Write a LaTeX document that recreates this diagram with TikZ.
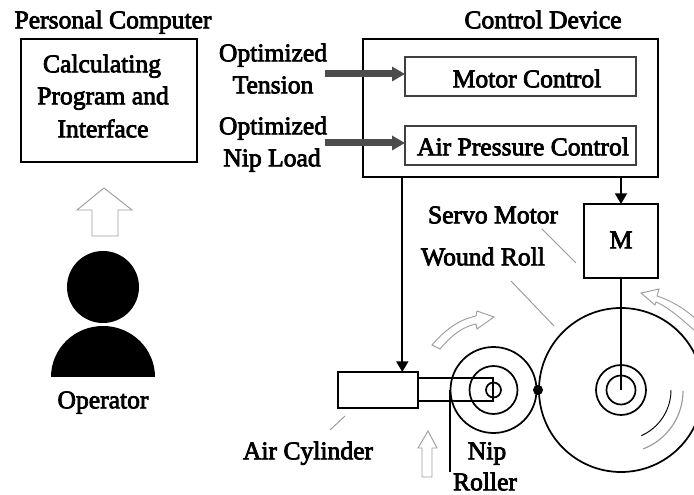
\documentclass[tikz,border=0pt]{standalone}
\usepackage{fontspec}
\setmainfont{Liberation Serif}[RawFeature={embolden=3}]
\usetikzlibrary{arrows.meta}
\definecolor{thickg}{gray}{0.3}
\definecolor{leader}{gray}{0.6}
\definecolor{hollow}{gray}{0.62}
\tikzset{
  lab/.style={inner sep=0pt,anchor=base,yshift=-1pt,font=\fontsize{19.2}{22}\selectfont,text=black},
  box/.style={draw=black,line width=1.3pt,inner sep=0pt,outer sep=0pt,anchor=north west},
  subbox/.style={draw=black!75,line width=0.8pt,inner sep=0pt,outer sep=0pt,anchor=north west},
  conn/.style={draw=black,line width=1.5pt,-{Triangle[length=8pt,width=9pt]}},
  fatarrow/.style={draw=thickg,line width=5.25pt,-{Triangle[length=9.75pt,width=10.5pt]}},
  leaderline/.style={draw=leader,line width=0.7pt},
  hollowarrow/.style={draw=hollow,line width=0.7pt,fill=white,line join=miter},
  roll/.style={draw=black,line width=1.3pt,circle,inner sep=0pt,outer sep=0pt},
  solidshape/.style={fill=black,draw=none}
}
\begin{document}
\begin{tikzpicture}[x=0.75pt,y=-0.75pt]
\useasboundingbox (0,0) rectangle (694,495);
\begin{scope}
\clip (0,0) rectangle (694,495);

% boxes
\node[box,minimum width=132pt,minimum height=92.25pt] (pc) at (21,39) {};
\node[box,minimum width=221.25pt,minimum height=103.5pt] (ctrl) at (363,39) {};
\node[subbox,minimum width=173.25pt,minimum height=29.25pt] (motor) at (405,57) {};
\node[subbox,minimum width=173.25pt,minimum height=29.25pt] (air) at (405,126) {};
\node[box,minimum width=55.5pt,minimum height=55.5pt] (mbox) at (584,204) {};
\node[box,minimum width=60pt,minimum height=27pt] (cyl) at (338,372) {};

% rolls
\node[roll,minimum size=123pt] (wound) at (621,390) {};
\node[roll,minimum size=37.5pt] (woundm) at (621,390) {};
\node[roll,minimum size=21.75pt] (woundi) at (621,390) {};
\node[roll,minimum size=64.5pt] (nip) at (493.5,390) {};
\node[roll,minimum size=36pt] (nipm) at (493.5,390) {};
\node[roll,minimum size=11.25pt] (nipi) at (493.5,390) {};
\node[circle,fill=black,inner sep=0pt,minimum size=7.5pt] (contact) at (538,390) {};

% rod
\coordinate (rodtr) at (493,378);
\coordinate (rodbr) at (493,401);
\coordinate (rodtl) at (418,378);
\coordinate (rodbl) at (418,401);
\draw[draw=black,line width=1.3pt] (rodtl) -- (rodtr) -- (rodbr) -- (rodbl);

% connectors
\coordinate (ctrlL) at (402.3,177);
\coordinate (cylT) at (402.3,372);
\draw[conn] (ctrlL) -- (cylT);
\draw[conn] (mbox.north |- ctrl.south) -- (mbox.north);
\draw[draw=black,line width=1.3pt] (mbox.south) -- (woundi.center);

% fat arrows
\coordinate (f1) at (325,74);
\coordinate (f2) at (325,143);
\draw[fatarrow] (f1) -- (motor.west |- f1);
\draw[fatarrow] (f2) -- (air.west |- f2);

% leaders
\coordinate (la) at (511,281); \coordinate (lb) at (554,326);
\draw[leaderline] (la) -- (lb);
\coordinate (lc) at (542,229); \coordinate (ld) at (576,263);
\draw[leaderline] (lc) -- (ld);
\coordinate (le) at (345,416); \coordinate (lf) at (330,430);
\draw[leaderline] (le) -- (lf);
\coordinate (lg) at (450,390); \coordinate (lh) at (450,472);
\draw[draw=black,line width=1.3pt] (lg) -- (lh);

% hollow straight arrows
\draw[hollowarrow] (92,236) -- (92,210) -- (77,210) -- (104,188) -- (132,210) -- (118,210) -- (118,236) -- cycle;
\draw[hollowarrow] (422,477) -- (422,448) -- (418,448) -- (428,431) -- (437,448) -- (432,448) -- (432,477) -- cycle;

% hollow curved arrows
\draw[hollowarrow] (432,345) .. controls (445,330) and (458,320) .. (476,316) -- (477,311) -- (494,317) -- (477,329) -- (476,324) .. controls (462,327) and (452,335) .. (440,349) -- cycle;
\draw[hollowarrow] (705,328) .. controls (690,312) and (675,302) .. (657,296) -- (659,289) -- (641,293) -- (655,305) -- (656,302) .. controls (670,308) and (685,322) .. (705,340);

% inner arcs
\draw[draw=black,line width=0.7pt] (671,390) arc[start angle=0,end angle=66,radius=50];
\draw[draw=hollow,line width=0.9pt] (683,391) arc[start angle=0,end angle=69,radius=62];

% operator
\node[circle,solidshape,inner sep=0pt,minimum size=54pt] (ophead) at (103,287) {};
\coordinate (bodyr) at (155,377);
\coordinate (bodyl) at (51,377);
\fill[solidshape] (bodyl) arc[start angle=180,end angle=0,x radius=52,y radius=-51] -- cycle;

% labels
\node[lab] (tpc) at (113,27) {Personal Computer};
\node[lab] (tcd) at (543,27) {Control Device};
\node[lab] (t1) at (102,71) {Calculating};
\node[lab] (t2) at (103,103) {Program and};
\node[lab] (t3) at (103,136) {Interface};
\node[lab] (t4) at (273,60) {Optimized};
\node[lab] (t5) at (273,92) {Tension};
\node[lab] (t6) at (273,133) {Optimized};
\node[lab] (t7) at (272,165) {Nip Load};
\node[lab] (t8) at (527,86) {Motor Control};
\node[lab] (t9) at (523,154) {Air Pressure Control};
\node[lab] (t10) at (493,222) {Servo Motor};
\node[lab] (t11) at (483,264) {Wound Roll};
\node[lab] (t12) at (621,247) {M};
\node[lab] (t13) at (103,407) {Operator};
\node[lab] (t14) at (308,458) {Air Cylinder};
\node[lab] (t15) at (487,458) {Nip};
\node[lab] (t16) at (485,489) {Roller};
\end{scope}
\end{tikzpicture}
\end{document}
